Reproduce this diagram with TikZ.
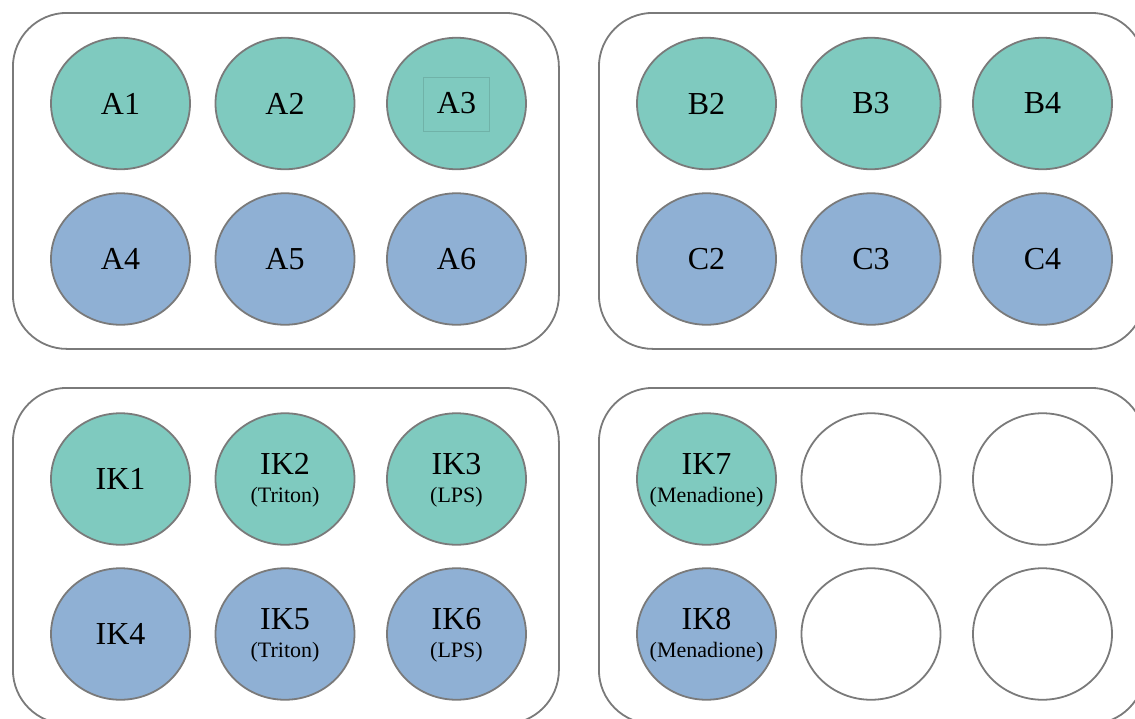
\documentclass[tikz,border=0pt]{standalone}
\usepackage{fontspec}
\setmainfont{Liberation Serif}
\usetikzlibrary{shapes.geometric}
\definecolor{wellteal}{HTML}{7FCABF}
\definecolor{wellblue}{HTML}{8FB0D4}
\definecolor{rimgray}{HTML}{7A7A7A}
\tikzset{
  plate/.style={draw=rimgray, line width=1.8pt, rounded corners=54pt,
    minimum width=546pt, minimum height=336pt, inner sep=0pt, anchor=north west},
  well/.style={ellipse, draw=rimgray, line width=1.8pt, minimum width=139pt,
    minimum height=131.5pt, inner sep=0pt, font=\fontsize{32}{38}\selectfont},
  tealwell/.style={well, fill=wellteal},
  bluewell/.style={well, fill=wellblue},
  emptywell/.style={well, fill=white},
  mainlbl/.style={anchor=base, inner sep=0pt, font=\fontsize{32}{38}\selectfont},
  sublbl/.style={anchor=base, inner sep=0pt, font=\fontsize{22}{26}\selectfont},
}
\begin{document}
\begin{tikzpicture}[x=1pt, y=-1pt]
\useasboundingbox (0,0) rectangle (1135,718);
\clip (0,0) rectangle (1135,718);

% plates
\node[plate] (plateA) at (12,12) {};
\node[plate] (plateB) at (598,12) {};
\node[plate] (plateC) at (12,387) {};
\node[plate] (plateD) at (598,387) {};

% plate A
\node[tealwell] (A1) at (120.5,103.5) {A1};
\node[tealwell] (A2) at (285,103.5) {A2};
\node[tealwell] (A3) at (456.5,103.5) {A3};
\draw[draw=wellteal!88!black, line width=0.6pt] ([xshift=-33pt,yshift=26.5pt]A3.center) rectangle ([xshift=33pt,yshift=-27.5pt]A3.center);
\node[bluewell] (A4) at (120.5,259) {A4};
\node[bluewell] (A5) at (285,259) {A5};
\node[bluewell] (A6) at (456.5,259) {A6};

% plate B
\node[tealwell] (B2) at (706.5,103.5) {B2};
\node[tealwell] (B3) at (871,103.5) {B3};
\node[tealwell] (B4) at (1042.5,103.5) {B4};
\node[bluewell] (C2) at (706.5,259) {C2};
\node[bluewell] (C3) at (871,259) {C3};
\node[bluewell] (C4) at (1042.5,259) {C4};

% plate C
\node[tealwell] (IK1) at (120.5,479) {IK1};
\node[tealwell] (IK2) at (285,479) {};
\node[mainlbl] (IK2m) at ([yshift=4.5pt]IK2.center) {IK2};
\node[sublbl] (IK2s) at ([yshift=-23.5pt]IK2.center) {(Triton)};
\node[tealwell] (IK3) at (456.5,479) {};
\node[mainlbl] (IK3m) at ([yshift=4.5pt]IK3.center) {IK3};
\node[sublbl] (IK3s) at ([yshift=-23.5pt]IK3.center) {(LPS)};
\node[bluewell] (IK4) at (120.5,634) {IK4};
\node[bluewell] (IK5) at (285,634) {};
\node[mainlbl] (IK5m) at ([yshift=4.5pt]IK5.center) {IK5};
\node[sublbl] (IK5s) at ([yshift=-23.5pt]IK5.center) {(Triton)};
\node[bluewell] (IK6) at (456.5,634) {};
\node[mainlbl] (IK6m) at ([yshift=4.5pt]IK6.center) {IK6};
\node[sublbl] (IK6s) at ([yshift=-23.5pt]IK6.center) {(LPS)};

% plate D
\node[tealwell] (IK7) at (706.5,479) {};
\node[mainlbl] (IK7m) at ([yshift=4.5pt]IK7.center) {IK7};
\node[sublbl] (IK7s) at ([yshift=-23.5pt]IK7.center) {(Menadione)};
\node[emptywell] (D2) at (871,479) {};
\node[emptywell] (D3) at (1042.5,479) {};
\node[bluewell] (IK8) at (706.5,634) {};
\node[mainlbl] (IK8m) at ([yshift=4.5pt]IK8.center) {IK8};
\node[sublbl] (IK8s) at ([yshift=-23.5pt]IK8.center) {(Menadione)};
\node[emptywell] (D5) at (871,634) {};
\node[emptywell] (D6) at (1042.5,634) {};
\end{tikzpicture}
\end{document}
